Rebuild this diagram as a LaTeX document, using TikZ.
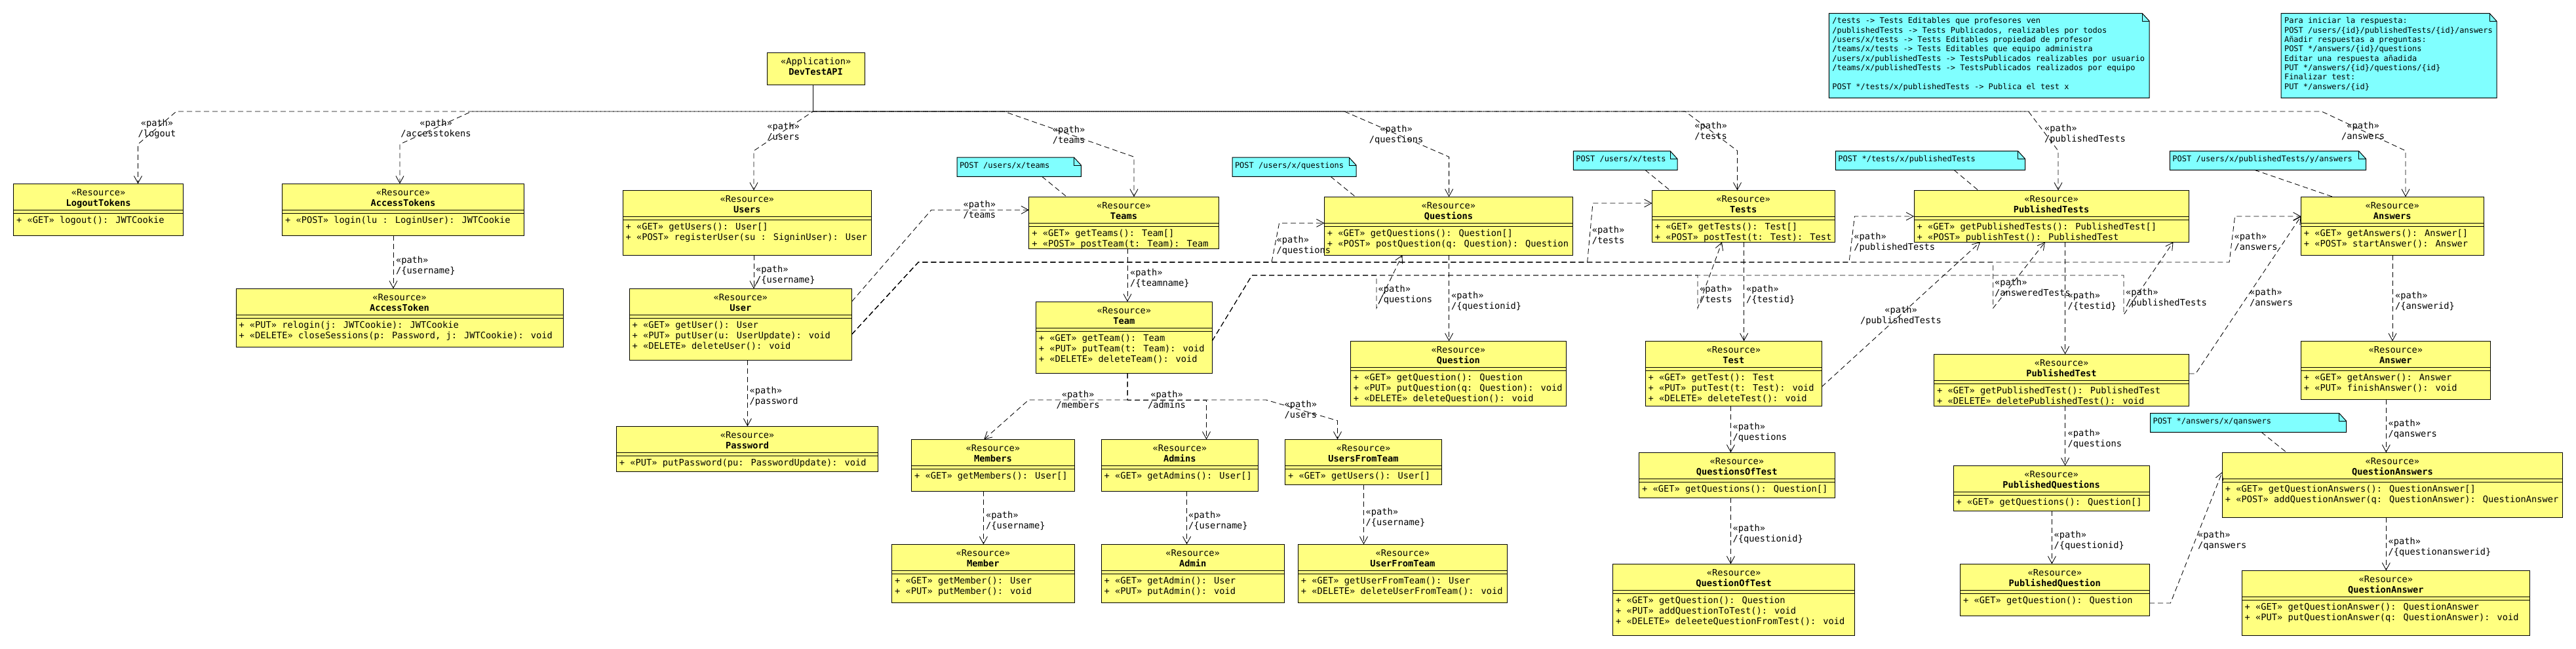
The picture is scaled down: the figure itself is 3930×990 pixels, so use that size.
\documentclass[tikz,border=0pt]{standalone}
\usepackage{fontspec}
\newfontfamily\dmono{DejaVu Sans Mono}
\usetikzlibrary{arrows.meta,calc}
\definecolor{boxyellow}{RGB}{255,255,128}
\definecolor{notecyan}{RGB}{128,255,255}
\newcommand\bfnt{\dmono\fontsize{13.7}{16}\selectfont}
\newcommand\nfnt{\dmono\fontsize{12}{14.3}\selectfont}
\tikzset{
  resrect/.style={draw=black, fill=boxyellow, line width=1pt, inner sep=0pt, outer sep=0pt},
  sepline/.style={draw=black, line width=1pt},
  btext/.style={font=\bfnt, inner sep=0pt, outer sep=0pt},
  ntext/.style={font=\nfnt, inner sep=0pt, outer sep=0pt},
  conn/.style={draw=black, line width=0.85pt, dash pattern=on 8pt off 5pt, -{Straight Barb[length=11pt,width=12pt]}},
  notelink/.style={draw=black, line width=0.85pt, dash pattern=on 8pt off 5pt},
  notefill/.style={fill=notecyan, draw=black, line width=1pt},
}
% id, left, top, right, bottom, name, methods
\newcommand\resbox[7]{%
  \node[resrect, anchor=north west, minimum width={(#4)-(#2)}, minimum height={(#5)-(#3)}] (#1) at (#2,#3) {};
  \draw[sepline] ($(#1.north west)+(0,40)$) -- ($(#1.north east)+(0,40)$);
  \draw[sepline] ($(#1.north west)+(0,45)$) -- ($(#1.north east)+(0,45)$);
  \node[btext, anchor=base] (#1-st) at ($(#1.north)+(0,18)$) {«Resource»};
  \node[btext, anchor=base, font=\bfnt\bfseries] (#1-nm) at ($(#1.north)+(0,34)$) {#6};
  \foreach \m [count=\i] in {#7} {\node[btext, anchor=base west] (#1-m\i) at ($(#1.north west)+(4.5,44+16*\i)$) {\m};}
}
% id, left, top, right, bottom
\newcommand\notebox[5]{%
  \node[inner sep=0pt, outer sep=0pt, anchor=north west, minimum width={(#4)-(#2)}, minimum height={(#5)-(#3)}] (#1) at (#2,#3) {};
  \filldraw[notefill] (#1.north west) -- ([xshift=-11pt]#1.north east) -- ([yshift=-12pt]#1.north east) -- (#1.south east) -- (#1.south west) -- cycle;
  \draw[line width=1pt] ([xshift=-11pt]#1.north east) -- ([xshift=-11pt,yshift=-12pt]#1.north east) -- ([yshift=-12pt]#1.north east);
}
% id, anchor, x, y of first line centre, second line
\newcommand\plab[5]{%
  \node[btext, anchor=#2] (#1a) at (#3,#4+5) {«path»};
  \node[btext, anchor=#2] (#1b) at (#3,#4+21) {#5};
}
\begin{document}
\begin{tikzpicture}[x=1pt,y=-1pt]
\fill[white] (0,0) rectangle (3930,990);
\useasboundingbox (0,0) rectangle (3930,990);

% application
\node[resrect, anchor=north west, minimum width=149.4, minimum height=49] (App) at (1170,80.3) {};
\node[btext, anchor=base] (App-st) at ($(App.north)+(0,18)$) {«Application»};
\node[btext, anchor=base, font=\bfnt\bfseries] (App-nm) at ($(App.north)+(0,34)$) {DevTestAPI};

% resources
\resbox{LogoutTokens}{20.6}{280.3}{279.5}{359.3}{LogoutTokens}{+ «GET» logout(): JWTCookie}
\resbox{AccessTokens}{430.6}{280.3}{799.4}{359.3}{AccessTokens}{+ «POST» login(lu : LoginUser): JWTCookie}
\resbox{AccessToken}{360}{440.3}{859}{529.3}{AccessToken}{{+ «PUT» relogin(j: JWTCookie): JWTCookie},{+ «DELETE» closeSessions(p: Password, j: JWTCookie): void}}
\resbox{Users}{950}{290.3}{1329.5}{389}{Users}{{+ «GET» getUsers(): User[]},{+ «POST» registerUser(su : SigninUser): User}}
\resbox{User}{960}{440.3}{1299.5}{549.3}{User}{{+ «GET» getUser(): User},{+ «PUT» putUser(u: UserUpdate): void},{+ «DELETE» deleteUser(): void}}
\resbox{Password}{940.4}{650.3}{1339.6}{719.3}{Password}{+ «PUT» putPassword(pu: PasswordUpdate): void}
\resbox{Teams}{1569.8}{300.3}{1859}{379.3}{Teams}{{+ «GET» getTeams(): Team[]},{+ «POST» postTeam(t: Team): Team}}
\resbox{Team}{1580.3}{460.3}{1849.3}{569.3}{Team}{{+ «GET» getTeam(): Team},{+ «PUT» putTeam(t: Team): void},{+ «DELETE» deleteTeam(): void}}
\resbox{Members}{1390.5}{670.3}{1639.3}{749.3}{Members}{+ «GET» getMembers(): User[]}
\resbox{Admins}{1680}{670.3}{1919.6}{749.3}{Admins}{+ «GET» getAdmins(): User[]}
\resbox{UsersFromTeam}{1960.5}{670.3}{2199.6}{739.3}{UsersFromTeam}{+ «GET» getUsers(): User[]}
\resbox{Member}{1360.6}{830.3}{1639.3}{919.3}{Member}{{+ «GET» getMember(): User},{+ «PUT» putMember(): void}}
\resbox{Admin}{1680}{830.3}{1959.3}{919.3}{Admin}{{+ «GET» getAdmin(): User},{+ «PUT» putAdmin(): void}}
\resbox{UserFromTeam}{1980.3}{830.3}{2299.4}{919.3}{UserFromTeam}{{+ «GET» getUserFromTeam(): User},{+ «DELETE» deleteUserFromTeam(): void}}
\resbox{Questions}{2020.3}{300.3}{2399.5}{389}{Questions}{{+ «GET» getQuestions(): Question[]},{+ «POST» postQuestion(q: Question): Question}}
\resbox{Question}{2060.3}{520.3}{2389.4}{619.3}{Question}{{+ «GET» getQuestion(): Question},{+ «PUT» putQuestion(q: Question): void},{+ «DELETE» deleteQuestion(): void}}
\resbox{Tests}{2520.4}{290.3}{2799}{369.3}{Tests}{{+ «GET» getTests(): Test[]},{+ «POST» postTest(t: Test): Test}}
\resbox{Test}{2510.2}{520.3}{2779.3}{619.3}{Test}{{+ «GET» getTest(): Test},{+ «PUT» putTest(t: Test): void},{+ «DELETE» deleteTest(): void}}
\resbox{QuestionsOfTest}{2500.6}{690.3}{2799}{759.3}{QuestionsOfTest}{+ «GET» getQuestions(): Question[]}
\resbox{QuestionOfTest}{2460.6}{860.3}{2829.4}{969.3}{QuestionOfTest}{{+ «GET» getQuestion(): Question},{+ «PUT» addQuestionToTest(): void},{+ «DELETE» deleeteQuestionFromTest(): void}}
\resbox{PublishedTests}{2920}{290.3}{3339}{369.3}{PublishedTests}{{+ «GET» getPublishedTests(): PublishedTest[]},{+ «POST» publishTest(): PublishedTest}}
\resbox{PublishedTest}{2950.6}{540.3}{3339.5}{619.3}{PublishedTest}{{+ «GET» getPublishedTest(): PublishedTest},{+ «DELETE» deletePublishedTest(): void}}
\resbox{PublishedQuestions}{2980}{710.3}{3279}{779.3}{PublishedQuestions}{+ «GET» getQuestions(): Question[]}
\resbox{PublishedQuestion}{2990.6}{860.3}{3279}{939.3}{PublishedQuestion}{+ «GET» getQuestion(): Question}
\resbox{Answers}{3510.4}{300.3}{3789}{389}{Answers}{{+ «GET» getAnswers(): Answer[]},{+ «POST» startAnswer(): Answer}}
\resbox{Answer}{3510.4}{520.3}{3799.3}{609.3}{Answer}{{+ «GET» getAnswer(): Answer},{+ «PUT» finishAnswer(): void}}
\resbox{QuestionAnswers}{3390.3}{690.3}{3909.5}{789.3}{QuestionAnswers}{{+ «GET» getQuestionAnswers(): QuestionAnswer[]},{+ «POST» addQuestionAnswer(q: QuestionAnswer): QuestionAnswer}}
\resbox{QuestionAnswer}{3420.2}{870.3}{3859.5}{969.3}{QuestionAnswer}{{+ «GET» getQuestionAnswer(): QuestionAnswer},{+ «PUT» putQuestionAnswer(q: QuestionAnswer): void}}

% notes
\notebox{nTeams}{1460}{240}{1649.4}{269.3}
\node[ntext, anchor=base west] (nTeams-t) at ($(nTeams.north west)+(4,16)$) {POST /users/x/teams};
\notebox{nQuestions}{1880}{240}{2069}{269.3}
\node[ntext, anchor=base west] (nQuestions-t) at ($(nQuestions.north west)+(4,16)$) {POST /users/x/questions};
\notebox{nTests}{2400.4}{230.3}{2559}{259.3}
\node[ntext, anchor=base west] (nTests-t) at ($(nTests.north west)+(4,16)$) {POST /users/x/tests};
\notebox{nPubTests}{2800.4}{230.3}{3089.5}{259.3}
\node[ntext, anchor=base west] (nPubTests-t) at ($(nPubTests.north west)+(4,16)$) {POST */tests/x/publishedTests};
\notebox{nAnswers}{3310.4}{230.3}{3609.5}{259.3}
\node[ntext, anchor=base west] (nAnswers-t) at ($(nAnswers.north west)+(4,16)$) {POST /users/x/publishedTests/y/answers};
\notebox{nQAnswers}{3280.5}{630.3}{3579.6}{659.3}
\node[ntext, anchor=base west] (nQAnswers-t) at ($(nQAnswers.north west)+(4,16)$) {POST */answers/x/qanswers};
\notebox{nInfo}{2790.3}{20.3}{3279.2}{149.3}
\foreach \t [count=\i] in {{/tests -> Tests Editables que profesores ven},{/publishedTests -> Tests Publicados, realizables por todos},{/users/x/tests -> Tests Editables propiedad de profesor},{/teams/x/tests -> Tests Editables que equipo administra},{/users/x/publishedTests -> TestsPublicados realizables por usuario},{/teams/x/publishedTests -> TestsPublicados realizados por equipo},{},{POST */tests/x/publishedTests -> Publica el test x}}
  {\node[ntext, anchor=base west] (nInfo-l\i) at ($(nInfo.north west)+(5,1.4+14.3*\i)$) {\t};}
\notebox{nStart}{3480}{20.3}{3809}{149.3}
\foreach \t [count=\i] in {{Para iniciar la respuesta:},{POST /users/\{id\}/publishedTests/\{id\}/answers},{Añadir respuestas a preguntas:},{POST */answers/\{id\}/questions},{Editar una respuesta añadida},{PUT */answers/\{id\}/questions/\{id\}},{Finalizar test:},{PUT */answers/\{id\}}}
  {\node[ntext, anchor=base west] (nStart-l\i) at ($(nStart.north west)+(5,1.4+14.3*\i)$) {\t};}

% note links
\draw[notelink] (nTeams.south -| 1589.6,0) -- (Teams.north -| 1627.5,0);
\draw[notelink] (nQuestions.south -| 2030,0) -- (Questions.north -| 2068,0);
\draw[notelink] (nTests.south -| 2509.8,0) -- (Tests.north -| 2547.7,0);
\draw[notelink] (nPubTests.south -| 2981,0) -- (PublishedTests.north -| 3018,0);
\draw[notelink] (nAnswers.south -| 3439.5,0) -- (Answers.north -| 3559,0);
\draw[notelink] (nQAnswers.south -| 3450,0) -- (QuestionAnswers.north -| 3488.6,0);

% application paths
\draw[conn, dash phase=0pt] (App.south -| 1240.5,0) -- (1240.5,170) -- (269,170) -- (210.5,220) -- (LogoutTokens.north -| 210.5,0);
\draw[conn, dash phase=6.5pt] (App.south -| 1240.5,0) -- (1240.5,170) -- (719.5,170) -- (610,220) -- (AccessTokens.north -| 610,0);
\draw[conn, dash phase=3pt] (App.south -| 1240.5,0) -- (1240.5,170) -- (1150,230) -- (Users.north -| 1150,0);
\draw[conn, dash phase=0pt] (App.south -| 1240.5,0) -- (1240.5,170) -- (1531.5,170) -- (1730,239.3) -- (Teams.north -| 1730,0);
\draw[conn, dash phase=6.5pt] (App.south -| 1240.5,0) -- (1240.5,170) -- (2051,170) -- (2210.6,239.3) -- (Questions.north -| 2210.6,0);
\draw[conn, dash phase=0pt] (App.south -| 1240.5,0) -- (1240.5,170) -- (2571,170) -- (2650.5,230) -- (Tests.north -| 2650.5,0);
\draw[conn, dash phase=3pt] (App.south -| 1240.5,0) -- (1240.5,170) -- (3094.6,170) -- (3140,230) -- (PublishedTests.north -| 3140,0);
\draw[conn, dash phase=9.5pt] (App.south -| 1240.5,0) -- (1240.5,170) -- (3542,170) -- (3670,230) -- (Answers.north -| 3670,0);

% sub resources
\draw[conn] (AccessTokens.south -| 600,0) -- (AccessToken.north -| 600,0);
\draw[conn] (Users.south -| 1150,0) -- (User.north -| 1150,0);
\draw[conn] (User.south -| 1140.4,0) -- (Password.north -| 1140.4,0);
\draw[conn] (User.east |- 0,460) -- (1420.8,320.3) -- (Teams.west |- 0,320.3);
\draw[conn] (User.east |- 0,510) -- (1401,400) -- (1940,400) -- (1951.6,340.3) -- (Questions.west |- 0,340.3);
\draw[conn] (User.east |- 0,510) -- (1401,400) -- (2421.6,400) -- (2430,310) -- (Tests.west |- 0,310);
\draw[conn] (User.east |- 0,510) -- (1401,400) -- (2821,400) -- (2829.4,330) -- (PublishedTests.west |- 0,330);
\draw[conn] (User.east |- 0,510) -- (1401,400) -- (3040.7,400) -- (3040.7,470) -- (PublishedTests.south -| 3120,0);
\draw[conn] (User.east |- 0,510) -- (1401,400) -- (3401,400) -- (3409.6,330) -- (Answers.west |- 0,330);
\draw[conn] (Teams.south -| 1720,0) -- (Team.north -| 1720,0);
\draw[conn] (Team.east |- 0,520) -- (1910,420) -- (2100,420) -- (2100,470) -- (Questions.south -| 2139.4,0);
\draw[conn] (Team.east |- 0,520) -- (1910,420) -- (2590,420) -- (2590,470) -- (Tests.south -| 2627,0);
\draw[conn] (Team.east |- 0,520) -- (1910,420) -- (3240,420) -- (3240,480) -- (PublishedTests.south -| 3315.5,0);
\draw[conn] (Team.south -| 1720,0) -- (1720,610) -- (1569.4,610) -- (Members.north -| 1501.2,0);
\draw[conn] (Team.south -| 1720,0) -- (1720,610) -- (1840.5,610) -- (Admins.north -| 1840.5,0);
\draw[conn] (Team.south -| 1720,0) -- (1720,610) -- (1931.4,610) -- (2040.5,641.7) -- (UsersFromTeam.north -| 2040.5,0);
\draw[conn] (Members.south -| 1500.4,0) -- (Member.north -| 1500.4,0);
\draw[conn] (Admins.south -| 1810.6,0) -- (Admin.north -| 1810.6,0);
\draw[conn] (UsersFromTeam.south -| 2080.5,0) -- (UserFromTeam.north -| 2080.5,0);
\draw[conn] (Questions.south -| 2210.6,0) -- (Question.north -| 2210.6,0);
\draw[conn] (Tests.south -| 2660.6,0) -- (Test.north -| 2660.6,0);
\draw[conn] (Test.south -| 2640.4,0) -- (QuestionsOfTest.north -| 2640.4,0);
\draw[conn] (QuestionsOfTest.south -| 2640.4,0) -- (QuestionOfTest.north -| 2640.4,0);
\draw[conn] (Test.east |- 0,590) -- (PublishedTests.south -| 3021,0);
\draw[conn] (PublishedTests.south -| 3150.6,0) -- (PublishedTest.north -| 3150.6,0);
\draw[conn] (PublishedTest.south -| 3150.6,0) -- (PublishedQuestions.north -| 3150.6,0);
\draw[conn] (PublishedQuestions.south -| 3130.4,0) -- (PublishedQuestion.north -| 3130.4,0);
\draw[conn] (PublishedTest.east |- 0,570) -- (3349.7,570) -- (Answers.west |- 0,330);
\draw[conn] (Answers.south -| 3650,0) -- (Answer.north -| 3650,0);
\draw[conn] (Answer.south -| 3640.3,0) -- (QuestionAnswers.north -| 3640.3,0);
\draw[conn] (QuestionAnswers.south -| 3640.3,0) -- (QuestionAnswer.north -| 3640.3,0);
\draw[conn] (PublishedQuestion.east |- 0,920) -- (3311.3,920) -- (QuestionAnswers.west |- 0,720);

% path labels
\plab{L1}{base}{239.5}{187}{/logout}
\plab{L2}{base}{665}{187}{/accesstokens}
\plab{L3}{base}{1195}{192}{/users}
\plab{L4}{base}{1630.5}{197}{/teams}
\plab{L5}{base}{2130}{196.7}{/questions}
\plab{L6}{base}{2610}{191.7}{/tests}
\plab{L7}{base west}{3119}{195}{/publishedTests}
\plab{L8}{base}{3605}{191.7}{/answers}
\plab{L9}{base west}{604}{396}{/\{username\}}
\plab{L10}{base west}{1153}{410}{/\{username\}}
\plab{L11}{base west}{1143.5}{595}{/password}
\plab{L12}{base west}{1469.5}{311}{/teams}
\plab{L13}{base west}{1947.5}{365}{/questions}
\plab{L14}{base west}{2428.8}{350}{/tests}
\plab{L15}{base west}{2828.4}{360}{/publishedTests}
\plab{L16}{base west}{3043}{430}{/answeredTests}
\plab{L17}{base west}{3408.6}{360}{/answers}
\plab{L18}{base west}{2102.6}{440}{/questions}
\plab{L19}{base west}{2593}{440}{/tests}
\plab{L20}{base west}{3243}{445}{/publishedTests}
\plab{L21}{base west}{3432}{445}{/answers}
\plab{L22}{base}{2900}{472}{/publishedTests}
\plab{L23}{base west}{2214}{450}{/\{questionid\}}
\plab{L24}{base west}{2664}{440}{/\{testid\}}
\plab{L25}{base west}{3154.6}{450}{/\{testid\}}
\plab{L26}{base west}{3654}{450}{/\{answerid\}}
\plab{L27}{base west}{1724}{415}{/\{teamname\}}
\plab{L28}{base}{1644.5}{601}{/members}
\plab{L29}{base}{1780}{601}{/admins}
\plab{L30}{base west}{1959.5}{616.7}{/users}
\plab{L31}{base west}{1504}{785}{/\{username\}}
\plab{L32}{base west}{1813}{785}{/\{username\}}
\plab{L33}{base west}{2083.7}{780}{/\{username\}}
\plab{L34}{base west}{2643.6}{650}{/questions}
\plab{L35}{base west}{2643.6}{805}{/\{questionid\}}
\plab{L36}{base west}{3154.6}{660}{/questions}
\plab{L37}{base west}{3133.6}{815}{/\{questionid\}}
\plab{L38}{base west}{3643.6}{645}{/qanswers}
\plab{L39}{base west}{3643.6}{825}{/\{questionanswerid\}}
\plab{L40}{base west}{3353}{815}{/qanswers}
\end{tikzpicture}
\end{document}
